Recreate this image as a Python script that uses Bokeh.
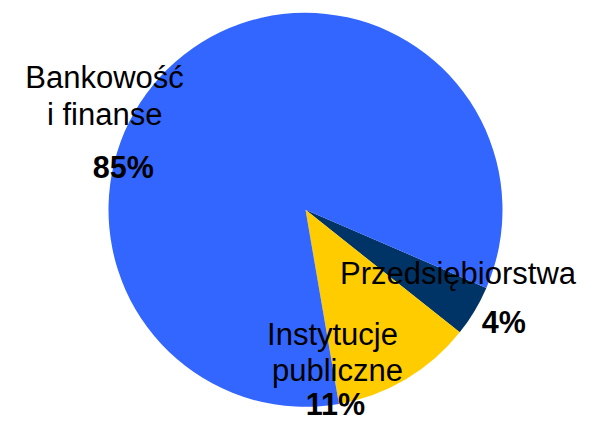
import numpy as np
from bokeh.plotting import figure
from bokeh.models import ColumnDataSource, Range1d
from bokeh.embed import file_html
from bokeh.resources import INLINE
from bokeh.core.properties import value

# ---- data (clockwise from the right-hand edge) ----
sectors = ["Przedsiębiorstwa", "Instytucje publiczne", "Bankowość i finanse"]
shares = [4.2, 11.6, 84.2]
pct_labels = ["4%", "11%", "85%"]
name_lines = [["Przedsiębiorstwa"], ["Instytucje", "publiczne"], ["Bankowość", "i finanse"]]
colors = ["#003366", "#FFCC00", "#3366FF"]

# ---- layout ----
W, H = 578, 421
cx, cy, r = 305.0, H - 209.3, 197.0
start_deg = -23.35
FONT = "Liberation Sans"
FS = "31px"
FS_B = "30.5px"
BASE_FIX = 10  # renderer draws the baseline this many px lower than asked

p = figure(width=W, height=H, x_range=Range1d(0, W), y_range=Range1d(0, H),
           output_backend="svg", toolbar_location=None, min_border=0)
p.axis.visible = False
p.grid.visible = False
p.outline_line_color = None
p.background_fill_color = "white"
p.border_fill_color = "white"

fr = np.array(shares, dtype=float) / sum(shares) * 2 * np.pi
start = np.deg2rad(start_deg)
ends = start - np.cumsum(fr)
starts = np.concatenate([[start], ends[:-1]])

src = ColumnDataSource(dict(sector=sectors, share=shares, start=starts, end=ends, color=colors))
p.wedge(x=cx, y=cy, radius=r, start_angle="start", end_angle="end", direction="clock",
        fill_color="color", line_color=None, source=src)

# label anchors in pixels from the top-left: (centre x, baseline y)
name_pos = [[(457.5, 283.3)], [(332, 344), (337, 380)], [(104, 86.7), (104.2, 124)]]
pct_pos = [(503.3, 331.7), (335, 413), (122.8, 176.7)]

nx, ny, nt = [], [], []
for lines, poss in zip(name_lines, name_pos):
    for t, (x, y) in zip(lines, poss):
        nx.append(x)
        ny.append(H - (y - BASE_FIX))
        nt.append(t)
p.text(x=nx, y=ny, text=nt, text_font=value(FONT), text_font_size=FS,
       text_align="center", text_baseline="alphabetic", text_color="black")

px = [x for x, y in pct_pos]
py = [H - (y - BASE_FIX) for x, y in pct_pos]
p.text(x=px, y=py, text=pct_labels, text_font=value(FONT), text_font_size=FS_B,
       text_font_style="bold", text_align="center", text_baseline="alphabetic", text_color="black")

open("out.html", "w").write(file_html(p, INLINE))
